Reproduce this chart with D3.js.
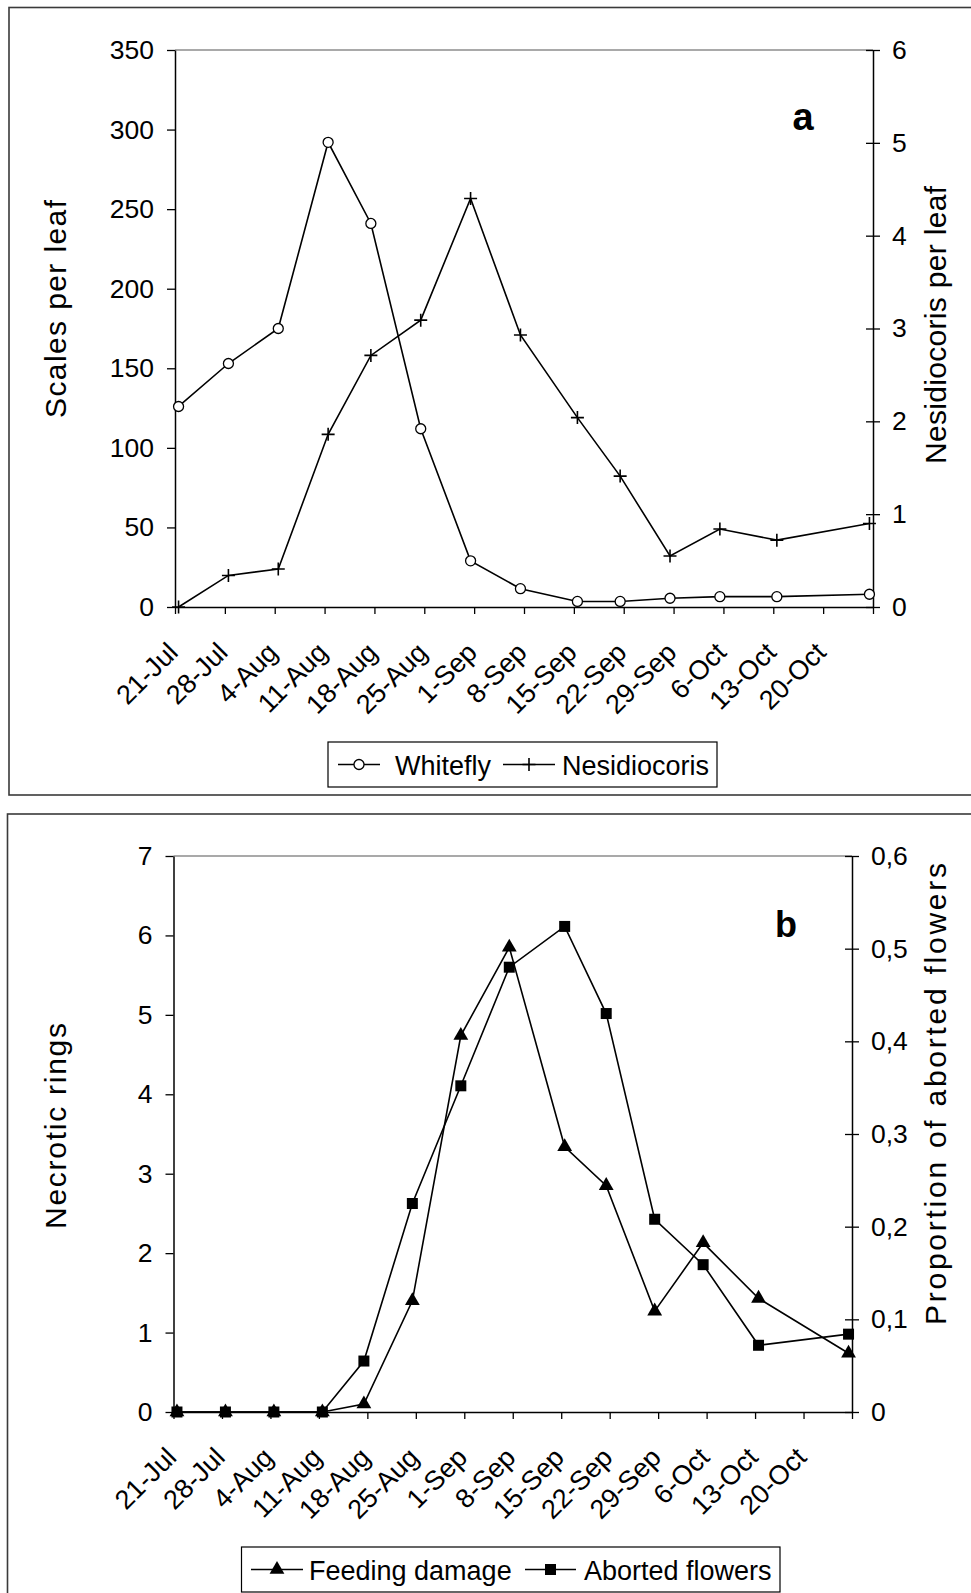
<!DOCTYPE html>
<html><head><meta charset="utf-8">
<script src="https://cdn.jsdelivr.net/npm/d3@7"></script>
<style>
body{margin:0;background:#fff}
svg{display:block}
text{font-family:"Liberation Sans",Arial,sans-serif;fill:#000}
</style>
</head><body><svg id="c" width="971" height="1593"></svg>
<script>
// ---- data ----
const sampleDates = ["2000-07-21","2000-07-28","2000-08-04","2000-08-11","2000-08-17","2000-08-24","2000-08-31","2000-09-07","2000-09-15","2000-09-21","2000-09-28","2000-10-05","2000-10-13","2000-10-26"];
const whitefly      = [126,153,175,292,241,112,29,11.5,3.5,3.5,5.5,6.5,6.5,8];
const nesidiocoris  = [0,0.34,0.41,1.86,2.71,3.09,4.40,2.93,2.04,1.41,0.55,0.84,0.72,0.90];
const feedingDamage = [0,0,0,0,0.1,1.4,4.74,5.85,3.34,2.85,1.27,2.13,1.43,0.74];
const abortedFlowers= [0,0,0,0,0.055,0.225,0.352,0.48,0.524,0.43,0.208,0.159,0.072,0.084];
const xTickDates  = ["2000-07-21","2000-07-28","2000-08-04","2000-08-11","2000-08-18","2000-08-25","2000-09-01","2000-09-08","2000-09-15","2000-09-22","2000-09-29","2000-10-06","2000-10-13","2000-10-20","2000-10-27"];
const xTickLabels = ["21-Jul","28-Jul","4-Aug","11-Aug","18-Aug","25-Aug","1-Sep","8-Sep","15-Sep","22-Sep","29-Sep","6-Oct","13-Oct","20-Oct",""];
const scalesTicks = [0,50,100,150,200,250,300,350];
const nesTicks    = [0,1,2,3,4,5,6];
const ringTicks   = [0,1,2,3,4,5,6,7];
const propTicks   = [0,0.1,0.2,0.3,0.4,0.5,0.6];

const parse = d3.utcParse("%Y-%m-%d");
const svg = d3.select("#c");
svg.append("rect").attr("width",971).attr("height",1593).attr("fill","#fff");

// panel frames
svg.append("rect").attr("x",9).attr("y",7.5).attr("width",1000).attr("height",787.5)
  .attr("fill","none").attr("stroke","#3a3a3a").attr("stroke-width",1.6);
svg.append("rect").attr("x",7.5).attr("y",814).attr("width",1000).attr("height",900)
  .attr("fill","none").attr("stroke","#3a3a3a").attr("stroke-width",1.6);

const markers = {
  circle: g => g.append("circle").attr("r",5).attr("fill","#fff").attr("stroke","#000").attr("stroke-width",1.3),
  plus: g => g.append("path").attr("d","M-6.5,0H6.5M0,-6.5V6.5").attr("stroke","#000").attr("stroke-width",1.6),
  triangle: g => g.append("path").attr("d",d3.symbol(d3.symbolTriangle,95)()).attr("fill","#000"),
  square: g => g.append("path").attr("d","M-5.5,-5.5H5.5V5.5H-5.5Z").attr("fill","#000")
};

function panel(cfg){
  const g = svg.append("g");
  const x = d3.scaleUtc().domain([parse(xTickDates[0]), parse(xTickDates[xTickDates.length-1])]).range([cfg.left,cfg.right]);
  const yL = d3.scaleLinear().domain([0,d3.max(cfg.leftTicks)]).range([cfg.bottom,cfg.top]);
  const yR = d3.scaleLinear().domain([0,d3.max(cfg.rightTicks)]).range([cfg.bottom,cfg.top]);

  // top border line (gray)
  g.append("line").attr("x1",cfg.left).attr("x2",cfg.right).attr("y1",cfg.top).attr("y2",cfg.top)
    .attr("stroke","#8c8c8c").attr("stroke-width",1.5);

  // left axis
  const la = g.append("g").attr("transform",`translate(${cfg.left},0)`)
    .call(d3.axisLeft(yL).tickValues(cfg.leftTicks).tickSize(8).tickSizeOuter(0).tickPadding(13).tickFormat(d3.format("d")));
  la.select(".domain").attr("stroke","#000").attr("stroke-width",1.5);
  la.selectAll(".tick line").attr("stroke","#000").attr("stroke-width",1.3);
  la.selectAll(".tick text").attr("font-size",26.5).attr("font-family",null);

  // right axis
  const ra = g.append("g").attr("transform",`translate(${cfg.right},0)`)
    .call(d3.axisRight(yR).tickValues(cfg.rightTicks).tickSize(7).tickSizeOuter(0).tickPadding(12).tickFormat(cfg.rightFormat));
  ra.select(".domain").attr("stroke","#000").attr("stroke-width",1.5);
  ra.selectAll(".tick line").attr("x1",-7).attr("stroke","#000").attr("stroke-width",1.3);
  ra.selectAll(".tick text").attr("font-size",26.5).attr("font-family",null);

  // bottom axis
  const ba = g.append("g").attr("transform",`translate(0,${cfg.bottom})`)
    .call(d3.axisBottom(x).tickValues(xTickDates.map(parse)).tickSize(7).tickSizeOuter(0).tickFormat((d,i)=>xTickLabels[i]));
  ba.select(".domain").attr("stroke","#000").attr("stroke-width",1.5);
  ba.selectAll(".tick line").attr("stroke","#000").attr("stroke-width",1.3);
  ba.selectAll(".tick text").attr("font-size",27).attr("font-family",null)
    .attr("text-anchor","end").attr("y",0).attr("dy",0)
    .attr("transform","translate(4,47) rotate(-45)");

  // series (points sit in the middle of their day, as on a date axis)
  const xp = d => x(d3.utcHour.offset(parse(d),12));
  cfg.series.forEach(s=>{
    const y = s.axis==="left"?yL:yR;
    const line = d3.line().x((d,i)=>xp(sampleDates[i])).y(d=>y(d));
    g.append("path").datum(s.values).attr("d",line).attr("fill","none").attr("stroke","#000").attr("stroke-width",1.6);
    s.values.forEach((v,i)=>{
      const m = g.append("g").attr("transform",`translate(${xp(sampleDates[i])},${y(v)})`);
      markers[s.marker](m);
    });
  });

  // panel letter
  g.append("text").attr("x",cfg.letterX).attr("y",cfg.letterY).attr("font-size",cfg.letterSize)
    .attr("font-weight","bold").attr("text-anchor","middle").text(cfg.letter);

  // axis titles
  g.append("text").attr("transform",`translate(${cfg.ltX},${cfg.ltY}) rotate(-90)`)
    .attr("text-anchor","middle").attr("font-size",30).attr("textLength",cfg.ltLen).attr("lengthAdjust","spacing").text(cfg.leftTitle);
  g.append("text").attr("transform",`translate(${cfg.rtX},${cfg.rtY}) rotate(-90)`)
    .attr("text-anchor","middle").attr("font-size",30).attr("textLength",cfg.rtLen).attr("lengthAdjust","spacing").text(cfg.rightTitle);

  // legend
  const lg = g.append("g");
  lg.append("rect").attr("x",cfg.legend.x).attr("y",cfg.legend.y).attr("width",cfg.legend.w).attr("height",cfg.legend.h)
    .attr("fill","#fff").attr("stroke","#000").attr("stroke-width",1.2);
  const ly = cfg.legend.y + cfg.legend.h/2;
  cfg.series.forEach((s,k)=>{
    const it = cfg.legend.items[k];
    lg.append("line").attr("x1",it.x1).attr("x2",it.x2).attr("y1",ly).attr("y2",ly).attr("stroke","#000").attr("stroke-width",1.6);
    markers[s.marker](lg.append("g").attr("transform",`translate(${(it.x1+it.x2)/2},${ly})`));
    lg.append("text").attr("x",it.tx).attr("y",ly+10).attr("font-size",27).text(s.name);
  });
}

panel({
  left:175, right:873, top:50, bottom:607,
  leftTicks:scalesTicks, rightTicks:nesTicks, rightFormat:d3.format("d"),
  series:[
    {name:"Whitefly", values:whitefly, axis:"left", marker:"circle"},
    {name:"Nesidiocoris", values:nesidiocoris, axis:"right", marker:"plus"}
  ],
  letter:"a", letterX:803, letterY:130, letterSize:38,
  leftTitle:"Scales per leaf", ltX:66, ltY:309, ltLen:218,
  rightTitle:"Nesidiocoris per leaf", rtX:946, rtY:325, rtLen:278,
  legend:{x:328,y:742,w:389,h:45,items:[{x1:338,x2:380,tx:395},{x1:503,x2:555,tx:562}]}
});

panel({
  left:173.5, right:852, top:856, bottom:1412,
  leftTicks:ringTicks, rightTicks:propTicks, rightFormat:d=>d===0?"0":d.toFixed(1).replace(".",","),
  series:[
    {name:"Feeding damage", values:feedingDamage, axis:"left", marker:"triangle"},
    {name:"Aborted flowers", values:abortedFlowers, axis:"right", marker:"square"}
  ],
  letter:"b", letterX:786, letterY:937, letterSize:36,
  leftTitle:"Necrotic rings", ltX:66, ltY:1126, ltLen:206,
  rightTitle:"Proportion of aborted flowers", rtX:946, rtY:1094, rtLen:462,
  legend:{x:241.5,y:1547,w:538.5,h:45,items:[{x1:251,x2:303,tx:309},{x1:525,x2:576,tx:584}]}
});
</script>
</body></html>
